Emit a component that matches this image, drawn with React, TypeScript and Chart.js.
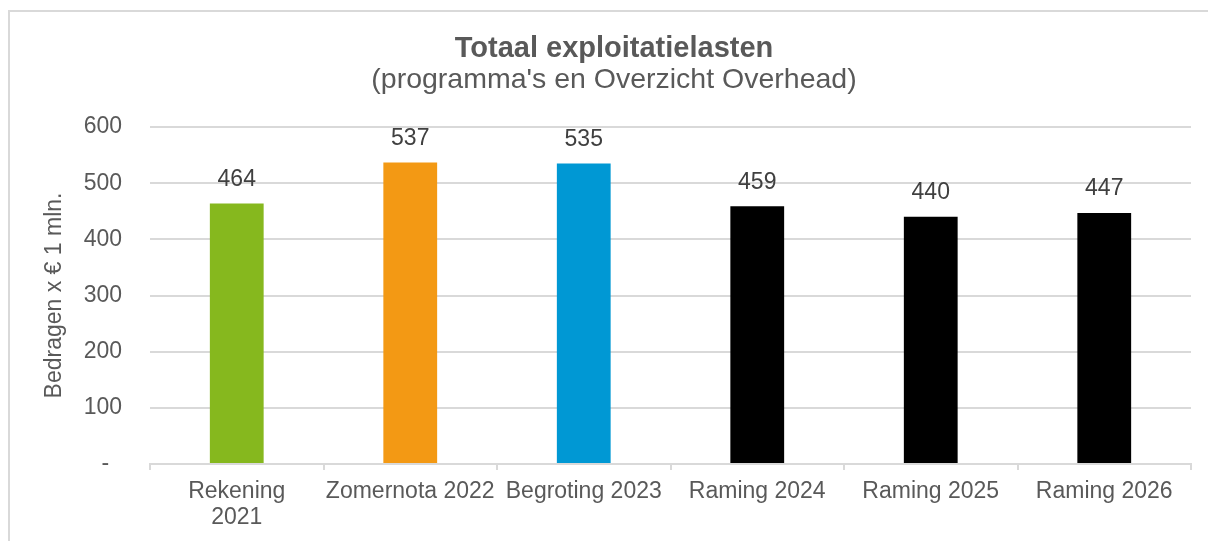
import React, { useEffect, useRef } from "react";
import { Chart, registerables } from "chart.js";

Chart.register(...registerables);

const categories: (string | string[])[] = [
  ["Rekening", "2021"],
  "Zomernota 2022",
  "Begroting 2023",
  "Raming 2024",
  "Raming 2025",
  "Raming 2026",
];
const values: number[] = [464, 537, 535, 459, 440, 447];
const barColors: string[] = ["#86B81E", "#F39914", "#0098D4", "#000000", "#000000", "#000000"];
const yTicks: number[] = [0, 100, 200, 300, 400, 500, 600];

const titleText = "Totaal exploitatielasten";
const subtitleText = "(programma's en Overzicht Overhead)";
const yTitle = "Bedragen x € 1 mln.";

const FONT = "'Liberation Sans', Arial, sans-serif";

const valueLabels = {
  id: "valueLabels",
  afterDatasetsDraw(chart: any) {
    const ctx = chart.ctx;
    const meta = chart.getDatasetMeta(0);
    ctx.save();
    ctx.font = `23px ${FONT}`;
    ctx.fillStyle = "#404040";
    ctx.textAlign = "center";
    ctx.textBaseline = "middle";
    meta.data.forEach((bar: any, i: number) => {
      ctx.fillText(String(values[i]), bar.x, bar.y - 24);
    });
    ctx.restore();
  },
};

export default function App() {
  const ref = useRef<HTMLCanvasElement | null>(null);
  useEffect(() => {
    if (!ref.current) return;
    const chart = new Chart(ref.current, {
      type: "bar",
      data: {
        labels: categories,
        datasets: [
          {
            data: values,
            backgroundColor: barColors,
            borderWidth: 0,
            categoryPercentage: 1,
            barPercentage: 0.31,
          },
        ],
      },
      options: {
        responsive: false,
        animation: false,
        devicePixelRatio: 1,
        layout: { padding: { left: 27, right: 17, top: 0, bottom: 0 } },
        plugins: {
          legend: { display: false },
          tooltip: { enabled: false },
          title: {
            display: true,
            text: titleText,
            color: "#595959",
            font: { family: FONT, size: 29, weight: "bold", lineHeight: 1.0 },
            padding: { top: 22.5, bottom: 0 },
          },
          subtitle: {
            display: true,
            text: subtitleText,
            color: "#595959",
            font: { family: FONT, size: 28.5, lineHeight: 1.0 },
            padding: { top: 2.25, bottom: 32.75 },
          },
        },
        scales: {
          x: {
            grid: {
              drawOnChartArea: false,
              drawTicks: true,
              tickLength: 6,
              color: "#d9d9d9",
              lineWidth: 2,
            },
            border: { display: true, color: "#d9d9d9", width: 2 },
            ticks: {
              color: "#595959",
              font: { family: FONT, size: 23, lineHeight: 1.15 },
              padding: 8,
              maxRotation: 0,
              autoSkip: false,
            },
            afterFit(scale: any) {
              scale.height = 77;
            },
          },
          y: {
            min: 0,
            max: 600,
            afterBuildTicks(scale: any) {
              scale.ticks = yTicks.map((v) => ({ value: v }));
            },
            grid: { drawTicks: false, color: "#d9d9d9", lineWidth: 2 },
            border: { display: false },
            ticks: {
              color: "#595959",
              font: { family: FONT, size: 23 },
              padding: 28,
              callback: (v: any) => (Number(v) === 0 ? "-  " : String(v)),
            },
            title: {
              display: true,
              text: yTitle,
              color: "#595959",
              font: { family: FONT, size: 23, lineHeight: 1.2 },
              padding: { top: 4, bottom: 0 },
            },
            afterFit(scale: any) {
              scale.width = 113;
            },
          },
        },
      },
      plugins: [valueLabels],
    });
    return () => chart.destroy();
  }, []);

  return (
    <div
      style={{
        position: "absolute",
        left: 8,
        top: 10,
        width: 1200,
        height: 531,
        boxSizing: "border-box",
        borderTop: "2px solid #d9d9d9",
        borderLeft: "2px solid #d9d9d9",
        background: "#fff",
        overflow: "hidden",
      }}
    >
      <canvas ref={ref} width={1198} height={529} style={{ display: "block" }} />
    </div>
  );
}
